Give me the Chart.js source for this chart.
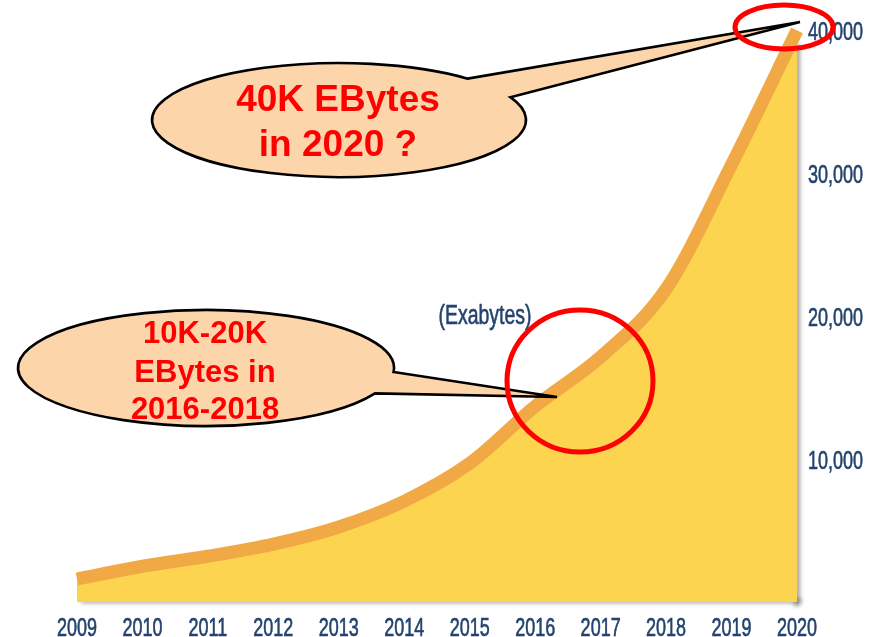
<!DOCTYPE html>
<html>
<head>
<meta charset="utf-8">
<script src="https://cdn.jsdelivr.net/npm/chart.js@4.4.1/dist/chart.umd.min.js"></script>
<style>
  html, body { margin: 0; padding: 0; background: #ffffff; }
  #wrap { position: relative; width: 873px; height: 637px; }
</style>
</head>
<body>
<div id="wrap"><canvas id="chart"></canvas></div>
<script>
// data
const years = ['2009', '2010', '2011', '2012', '2013', '2014', '2015', '2016', '2017', '2018', '2019', '2020'];
const exabytes = [1600, 2500, 3200, 4050, 5250, 7050, 9700, 13700, 17150, 21900, 30600, 40000];
const yTickValues = [10000, 20000, 30000, 40000];
const yTickLabels = ['10,000', '20,000', '30,000', '40,000'];
const unitLabel = '(Exabytes)';
const calloutTop = ['40K EBytes', 'in 2020 ?'];
const calloutMid = ['10K-20K', 'EBytes in', '2016-2018'];

const AXIS_BLUE = '#24436f';
const NARROW = 0.72;

// condensed text helper (no narrow font installed)
function narrowText(ctx, text, x, y, size, align) {
    ctx.save();
    ctx.font = size + 'px "Liberation Sans", Arial, sans-serif';
    ctx.fillStyle = AXIS_BLUE;
    ctx.strokeStyle = AXIS_BLUE;
    ctx.lineWidth = 0.6;
    ctx.textBaseline = 'alphabetic';
    const w = ctx.measureText(text).width * NARROW;
    let left = x;
    if (align === 'center') left = x - w / 2;
    ctx.translate(left, y);
    ctx.scale(NARROW, 1);
    ctx.textAlign = 'left';
    ctx.fillText(text, 0, 0);
    ctx.strokeText(text, 0, 0);
    ctx.restore();
}

// speech bubble: ellipse with a wedge tail between angles a1 -> a2
function bubble(ctx, cx, cy, rx, ry, a1, a2, tip) {
    ctx.save();
    ctx.beginPath();
    ctx.ellipse(cx, cy, rx, ry, 0, a1, a2, false);
    ctx.lineTo(tip[0], tip[1]);
    ctx.closePath();
    ctx.fillStyle = '#fcd5aa';
    ctx.fill();
    ctx.lineWidth = 2.6;
    ctx.lineJoin = 'miter';
    ctx.strokeStyle = '#000000';
    ctx.stroke();
    ctx.restore();
}

function redLines(ctx, lines, cx, yCenters, size) {
    ctx.save();
    ctx.font = 'bold ' + size + 'px "Liberation Sans", Arial, sans-serif';
    ctx.fillStyle = '#ff0000';
    ctx.textAlign = 'center';
    ctx.textBaseline = 'alphabetic';
    lines.forEach((t, i) => ctx.fillText(t, cx, yCenters[i] + size * 0.358));
    ctx.restore();
}

function redRing(ctx, cx, cy, rx, ry) {
    ctx.save();
    ctx.beginPath();
    ctx.ellipse(cx, cy, rx, ry, 0, 0, Math.PI * 2);
    ctx.lineWidth = 5;
    ctx.strokeStyle = '#ff0000';
    ctx.stroke();
    ctx.restore();
}

const deco = {
    id: 'deco',
    beforeDraw(chart) {
        // soft shadow under the bottom and right side of the area
        const { ctx, chartArea } = chart;
        const y = chart.scales.y;
        const peak = y.getPixelForValue(exabytes[exabytes.length - 1]);
        ctx.save();
        ctx.filter = 'blur(2px)';
        ctx.fillStyle = 'rgba(90,90,90,0.55)';
        ctx.fillRect(chartArea.left + 4, chartArea.bottom - 4, chartArea.right - chartArea.left, 5);
        ctx.fillRect(chartArea.right - 3, peak + 14, 6, chartArea.bottom - peak - 10);
        ctx.restore();
    },
    afterDraw(chart) {
        const { ctx, chartArea } = chart;
        const x = chart.scales.x;
        const y = chart.scales.y;

        // x labels
        years.forEach((yr, i) => narrowText(ctx, yr, x.getPixelForValue(i), 636, 25, 'center'));
        // y labels on the right
        yTickValues.forEach((v, i) => narrowText(ctx, yTickLabels[i], chartArea.right + 11, y.getPixelForValue(v) + 10, 25, 'left'));
        // unit
        narrowText(ctx, unitLabel, 485, 324, 27, 'center');

        // callouts
        const deg = Math.PI / 180;
        bubble(ctx, 339, 120, 187, 57, -23.6 * deg, (360 - 46.5) * deg, [800, 22]);
        redLines(ctx, calloutTop, 338, [98, 143], 37);

        bubble(ctx, 206, 368, 188, 58, 26 * deg, (360 + 4) * deg, [557, 397]);
        redLines(ctx, calloutMid, 205, [332, 371, 408], 31);

        redRing(ctx, 784, 27, 49, 22);
        redRing(ctx, 580, 381, 73, 71);
    }
};

new Chart(document.getElementById('chart'), {
    type: 'line',
    data: {
        labels: years,
        datasets: [{
            data: exabytes,
            fill: 'origin',
            backgroundColor: '#fcd44f',
            borderColor: '#f0a945',
            borderWidth: 13,
            borderCapStyle: 'butt',
            borderJoinStyle: 'round',
            cubicInterpolationMode: 'monotone',
            pointRadius: 0,
            clip: false
        }]
    },
    options: {
        responsive: true,
        maintainAspectRatio: false,
        animation: false,
        layout: { padding: { left: 77, right: 76, top: 16, bottom: 35 } },
        scales: {
            x: { display: false, offset: false },
            y: { display: false, min: 0, max: 41000 }
        },
        plugins: {
            legend: { display: false },
            tooltip: { enabled: false }
        }
    },
    plugins: [deco]
});
</script>
</body>
</html>
